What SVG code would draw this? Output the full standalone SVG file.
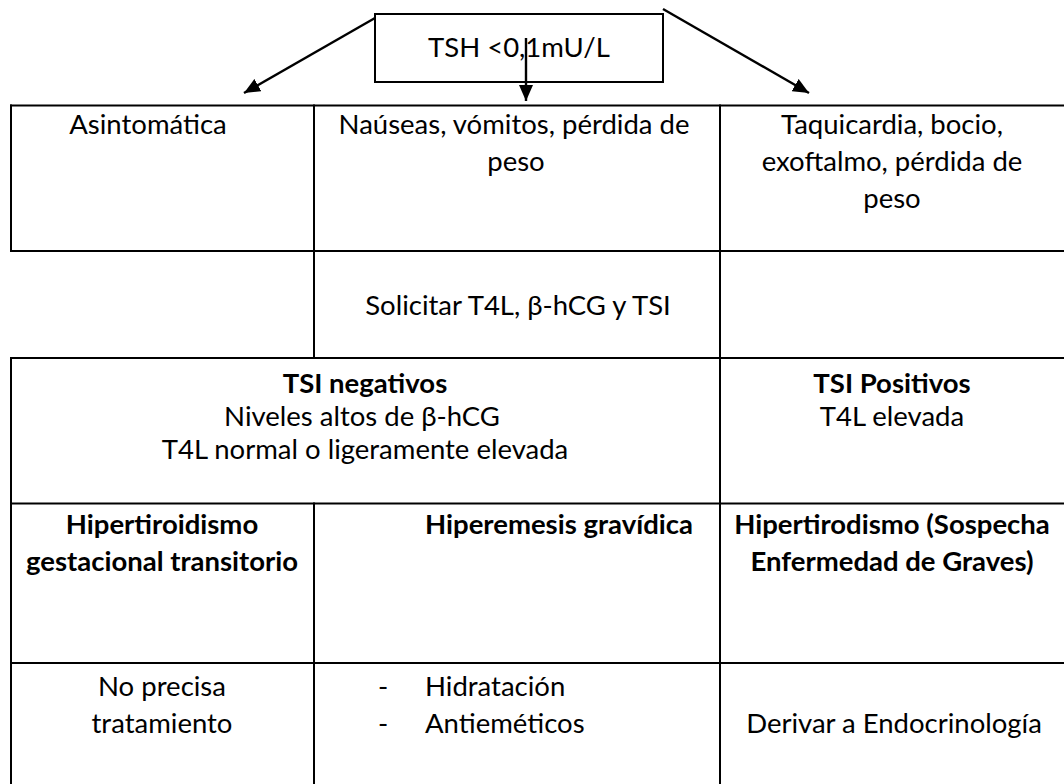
<svg xmlns="http://www.w3.org/2000/svg" width="1064" height="784" viewBox="0 0 1064 784">
<style>
.ln{stroke:#000;stroke-width:2;fill:none}
.ar{stroke:#000;stroke-width:2.4;fill:none}
.t{font-family:Lato,"Open Sans","Liberation Sans",sans-serif;font-size:27.5px;fill:#000}
.m{text-anchor:middle}
.b{font-weight:bold}
</style>
<defs>
<marker id="ah" viewBox="0 0 16 14" refX="16" refY="7" markerWidth="16" markerHeight="14" orient="auto" markerUnits="userSpaceOnUse"><path d="M0,0 L16,7 L0,14 Z" fill="#000"/></marker>
</defs>
<rect width="1064" height="784" fill="#fff"/>
<g id="grid" class="ln">
<line x1="10" y1="105.5" x2="1064" y2="105.5"/>
<line x1="10" y1="251" x2="1064" y2="251"/>
<line x1="10" y1="358" x2="1064" y2="358"/>
<line x1="10" y1="503.5" x2="1064" y2="503.5"/>
<line x1="10" y1="663" x2="1064" y2="663"/>
<line x1="11" y1="104.5" x2="11" y2="252"/>
<line x1="11" y1="357" x2="11" y2="784"/>
<line x1="314" y1="104.5" x2="314" y2="359"/>
<line x1="314" y1="502.5" x2="314" y2="784"/>
<line x1="720" y1="104.5" x2="720" y2="784"/>
</g>
<g id="tsh">
<rect x="375" y="14" width="288" height="68" class="ln"/>
<text x="519" y="57" class="t m">TSH &lt;0,1mU/L</text>
</g>
<g id="connectors" class="ar">
<line x1="375" y1="18" x2="244" y2="93" marker-end="url(#ah)"/>
<line x1="526" y1="38" x2="526" y2="101" marker-end="url(#ah)"/>
<line x1="663" y1="9" x2="809" y2="93" marker-end="url(#ah)"/>
</g>
<g id="asintomatica"><text x="148" y="134" class="t m">Asintomática</text></g>
<g id="nauseas"><text x="514" y="134" class="t m">Naúseas, vómitos, pérdida de</text><text x="516" y="171" class="t m">peso</text></g>
<g id="taquicardia"><text x="892" y="134" class="t m">Taquicardia, bocio,</text><text x="892" y="171" class="t m">exoftalmo, pérdida de</text><text x="892" y="208" class="t m">peso</text></g>
<g id="solicitar"><text x="518" y="315" class="t m">Solicitar T4L, β-hCG y TSI</text></g>
<g id="tsi-neg"><text x="365" y="393" class="t m b">TSI negativos</text><text x="362" y="426" class="t m">Niveles altos de β-hCG</text><text x="365" y="459" class="t m">T4L normal o ligeramente elevada</text></g>
<g id="tsi-pos"><text x="892" y="393" class="t m b">TSI Positivos</text><text x="892" y="426" class="t m">T4L elevada</text></g>
<g id="hgt"><text x="162" y="534" class="t m b">Hipertiroidismo</text><text x="162" y="571" class="t m b">gestacional transitorio</text></g>
<g id="hg"><text x="693" y="534" class="t b" text-anchor="end">Hiperemesis gravídica</text></g>
<g id="graves"><text x="892" y="534" class="t m b">Hipertirodismo (Sospecha</text><text x="892" y="571" class="t m b">Enfermedad de Graves)</text></g>
<g id="no-trat"><text x="162" y="696" class="t m">No precisa</text><text x="162" y="733" class="t m">tratamiento</text></g>
<g id="trat-hg"><text x="378" y="696" class="t">-</text><text x="425" y="696" class="t">Hidratación</text><text x="378" y="733" class="t">-</text><text x="425" y="733" class="t">Antieméticos</text></g>
<g id="derivar"><text x="894" y="733" class="t m">Derivar a Endocrinología</text></g>
</svg>
